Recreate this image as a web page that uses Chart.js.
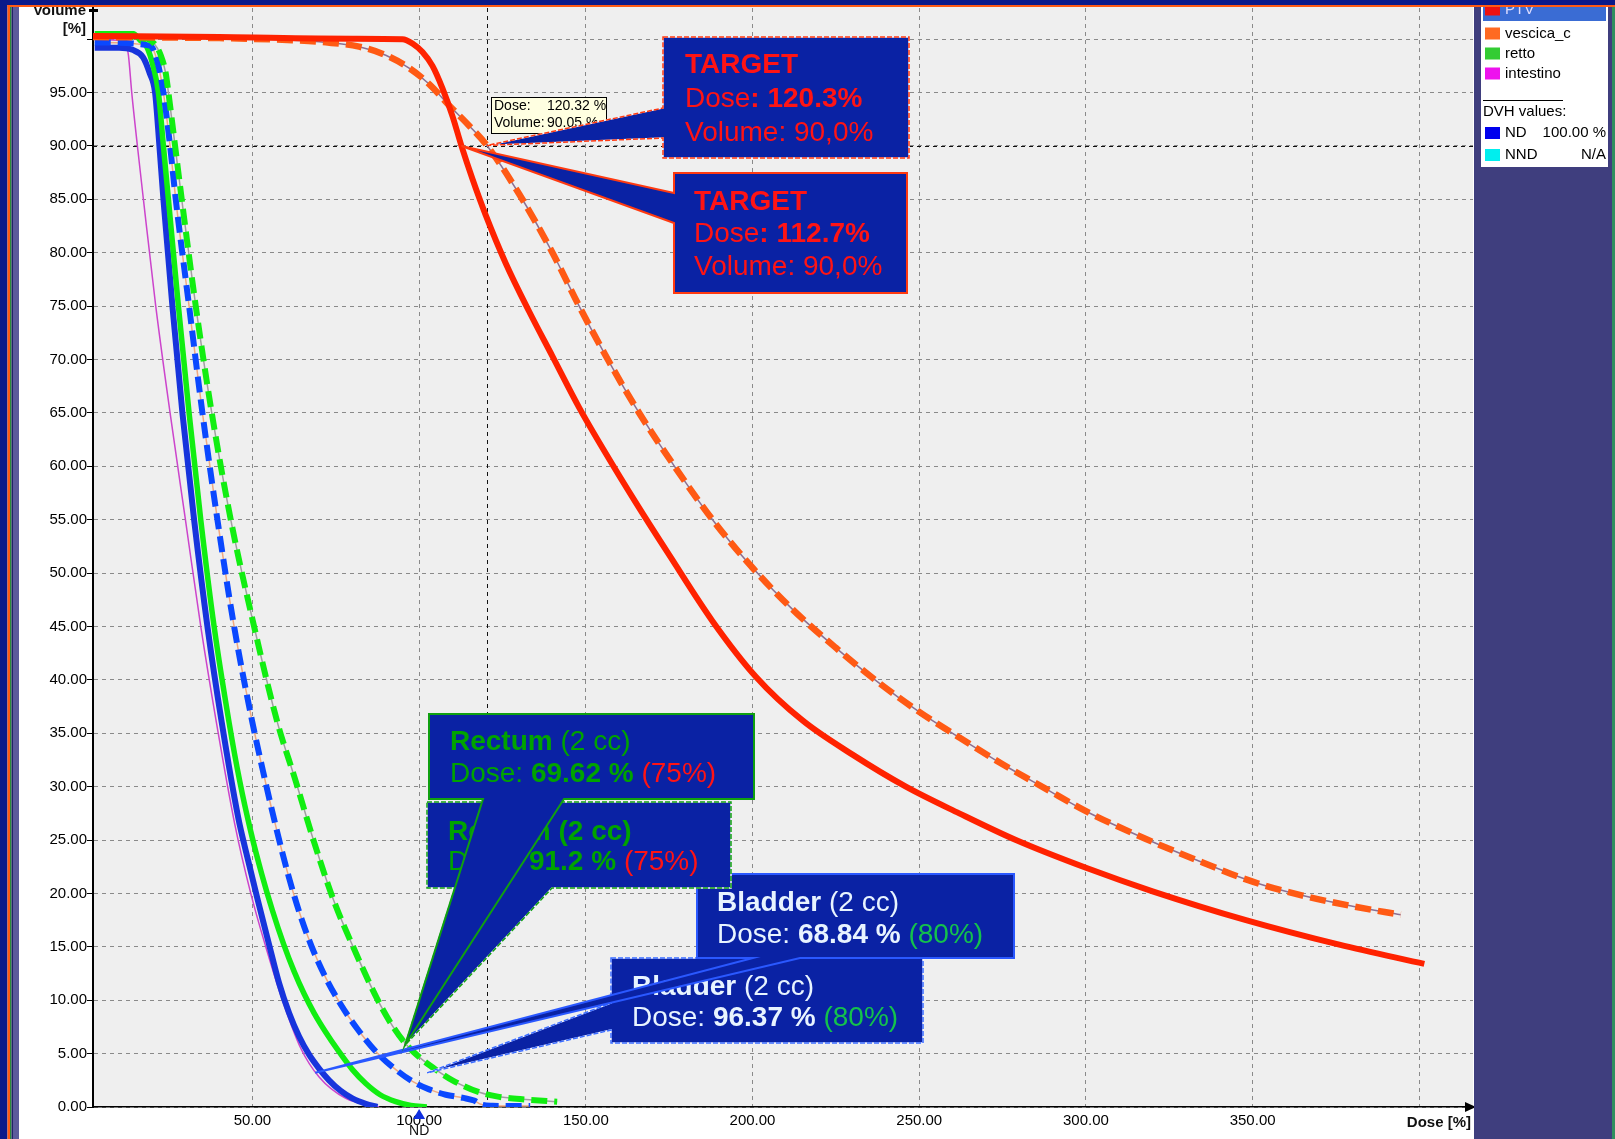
<!DOCTYPE html>
<html>
<head>
<meta charset="utf-8">
<title>DVH</title>
<script src="https://cdn.jsdelivr.net/npm/chart.js@4.4.1/dist/chart.umd.min.js"></script>
<style>
  html, body { margin: 0; padding: 0; background: #ffffff; overflow: hidden; }
  canvas { display: block; }
</style>
</head>
<body>
<canvas id="dvh" width="1615" height="1139"></canvas>
<script>
// ---------- Cumulative DVH curves: dose [%] / volume [%] ----------
// PTV, plan 1 (solid)
const ptvDose = [2.2, 40, 80, 95, 98, 101, 104, 107, 110, 112.7, 116, 120, 126, 133, 140, 148, 156, 165, 175, 188, 201, 215, 230, 246, 262, 279, 300, 320, 348, 376, 401.5];
const ptvVol  = [100.3, 100.2, 100.05, 100, 99.6, 98.8, 97.5, 95.4, 92.8, 90, 86.9, 83.5, 79, 74.5, 70.3, 65.5, 61.2, 56.6, 51.7, 45.5, 40.3, 36.2, 33, 30, 27.5, 25, 22.4, 20.2, 17.5, 15.2, 13.4];
// PTV, plan 2 (dashed)
const ptv2Dose = [2.2, 40, 62, 72, 82, 90, 97, 103, 109, 115, 120.32, 130, 140, 148, 156.6, 166, 176.6, 188, 200, 212, 225, 238, 250, 262, 275, 288, 300, 318, 335, 350, 365, 380, 394.4];
const ptv2Vol  = [100.2, 100.1, 99.9, 99.7, 99.3, 98.5, 97.3, 95.8, 93.8, 91.9, 90.05, 85.5, 80, 75, 70, 65, 60, 55, 50.5, 46.6, 43, 39.7, 37, 34.6, 32.1, 29.8, 27.7, 25.1, 22.9, 21.1, 19.8, 18.8, 18];
// Bladder, plan 1 (solid)
const bladderDose = [2.7, 10, 14, 17.2, 19.2, 20.8, 22.1, 23.3, 26, 29, 32.5, 36.5, 40.8, 45.8, 48, 51.5, 55, 58, 61, 64, 67, 70, 73, 76.5, 80, 84, 87.5];
const bladderVol  = [99.2, 99.2, 99, 98.3, 96.8, 95, 90, 85, 75, 65, 55, 45, 36, 27, 24, 19.5, 15.2, 11.6, 8.8, 6.6, 4.9, 3.6, 2.5, 1.5, 0.8, 0.3, 0];
// Bladder, plan 2 (dashed)
const bladder2Dose = [2.7, 19.3, 21.4, 23.3, 25.3, 27, 31, 35, 39.5, 44.5, 50, 53.5, 57, 60.5, 64, 67.8, 72, 76.5, 81.5, 87.3, 93, 98, 103, 108, 113.3, 116.5, 118.5, 122, 127, 133.3];
const bladder2Vol  = [99.7, 99.4, 98, 95, 90, 85, 75, 65, 55, 45, 36, 31, 26.3, 22, 18.3, 15, 12.1, 9.6, 7.3, 5.1, 3.5, 2.4, 1.65, 1.15, 0.85, 0.6, 0.25, 0.12, 0.1, 0.1];
// Rectum, plan 1 (solid)
const rectumDose = [2.7, 14.3, 16.3, 18.3, 20.2, 21.8, 23.3, 24.8, 27.8, 31, 34.5, 38.5, 43, 46.2, 49.5, 52.8, 56, 59.3, 62.5, 65.5, 68.5, 71.8, 75.7, 80, 84, 88.3, 93, 97.5, 102.3];
const rectumVol  = [100.5, 100.5, 99.9, 99.3, 97.5, 95, 90, 85, 75, 65, 55, 45, 36, 30.5, 25.8, 21.8, 18.4, 15.3, 12.7, 10.6, 8.8, 7.1, 5.3, 3.5, 2.2, 1.15, 0.5, 0.15, 0];
// Rectum, plan 2 (dashed)
const rectum2Dose = [2.7, 17.5, 20.5, 22.5, 24, 24.8, 26.8, 28.8, 33, 37.8, 43.5, 50.5, 57.5, 63, 68.3, 74.3, 80.2, 87.3, 92, 96, 100.3, 105, 110, 118.3, 124, 132, 141.4];
const rectum2Vol  = [100.3, 100.1, 99.6, 98.5, 96.8, 95, 90, 85, 75, 65, 55, 45, 36, 30.5, 25, 19.4, 15, 10.2, 7.6, 5.9, 4.6, 3.5, 2.5, 1.35, 0.95, 0.7, 0.5];
// Bowel (thin)
const bowelDose = [2.2, 10, 11.8, 12.8, 13.8, 15.5, 17.3, 21, 25.3, 29.9, 34.5, 39.2, 44.7, 49.5, 54, 59, 64.5, 70, 78, 88];
const bowelVol  = [100, 99.9, 99.8, 98.5, 95, 90, 85, 75, 65, 55, 45, 36, 26.5, 20, 15, 10, 5.5, 2.8, 0.8, 0];

// ---------- Axes ----------
const xTickValues = [50, 100, 150, 200, 250, 300, 350, 400];
const yTickValues = [0, 5, 10, 15, 20, 25, 30, 35, 40, 45, 50, 55, 60, 65, 70, 75, 80, 85, 90, 95, 100];

// ---------- Legend ----------
const legendNames  = ['PTV', 'vescica_c', 'retto', 'intestino'];
const legendColors = ['#ee1111', '#ff6a22', '#33cc33', '#ee11ee'];
const dvhNames  = ['ND', 'NND'];
const dvhColors = ['#0000ee', '#00eeee'];
const dvhValues = ['100.00 %', 'N/A'];

// ---------- Reported values ----------
const cursorDose = 120.32, cursorVolume = 90.05;
const targetDose = [120.3, 112.7];
const targetVolume = ['90,0', '90,0'];
const rectumD2cc = [69.62, 91.2];
const bladderD2cc = [68.84, 96.37];
const rectumLimit = '75%';
const bladderLimit = '80%';

const FONT = "'Liberation Sans', Arial, sans-serif";
Chart.defaults.font.family = FONT;

function pts(dose, vol) { return dose.map((d, i) => ({ x: d, y: vol[i] })); }

function curve(label, dose, vol, color, width, dash, order) {
  return {
    label, data: pts(dose, vol), showLine: true, borderColor: color, backgroundColor: color,
    borderWidth: width, borderDash: dash || [], pointRadius: 0, pointHoverRadius: 0,
    cubicInterpolationMode: 'monotone', fill: false, order, borderCapStyle: 'butt'
  };
}

const DASH = [16, 7];
const datasets = [
  curve('PTV', ptvDose, ptvVol, '#ff2200', 6, null, 0),
  curve('PTV 2', ptv2Dose, ptv2Vol, '#ff5a14', 6.5, DASH, 1),
  curve('PTV 2 line', ptv2Dose, ptv2Vol, '#8c6f92', 1.5, null, 2),
  curve('retto 2', rectum2Dose, rectum2Vol, '#11ee11', 6, DASH, 3),
  curve('retto 2 line', rectum2Dose, rectum2Vol, '#a0a0a0', 1.5, null, 4),
  curve('vescica 2', bladder2Dose, bladder2Vol, '#0a48ff', 6, DASH, 5),
  curve('vescica 2 line', bladder2Dose, bladder2Vol, '#f0a880', 1.5, null, 6),
  curve('retto', rectumDose, rectumVol, '#11ee11', 5.5, null, 7),
  curve('vescica', bladderDose, bladderVol, '#1734dc', 6, null, 8),
  curve('intestino', bowelDose, bowelVol, '#cc44cc', 1.5, null, 9)
];

// ---------- Drawing helpers ----------
const BOX_FILL = '#0a22a4';
const RED = '#ff1414', GREEN_TXT = '#00a300', LIGHT = '#e8f4ff', GREEN_LIM = '#14c24c';

function textRuns(ctx, x, y, parts, size) {
  ctx.textBaseline = 'middle';
  ctx.textAlign = 'left';
  for (const p of parts) {
    ctx.font = (p.b ? 'bold ' : '') + size + 'px ' + FONT;
    ctx.fillStyle = p.c;
    ctx.fillText(p.t, x, y);
    x += ctx.measureText(p.t).width;
  }
}

function drawCallout(ctx, c, tip) {
  const [x0, y0, x1, y1] = c.box;
  ctx.save();
  ctx.beginPath();
  ctx.moveTo(x0, y0);
  ctx.lineTo(x1, y0);
  ctx.lineTo(x1, y1);
  if (c.side === 'bottom') {
    ctx.lineTo(c.b, y1);
    ctx.lineTo(tip.x, tip.y);
    ctx.lineTo(c.a, y1);
    ctx.lineTo(x0, y1);
  } else {
    ctx.lineTo(x0, y1);
    ctx.lineTo(x0, c.b);
    ctx.lineTo(tip.x, tip.y);
    ctx.lineTo(x0, c.a);
  }
  ctx.closePath();
  ctx.fillStyle = BOX_FILL;
  ctx.fill();
  ctx.lineJoin = 'miter';
  if (c.dashed) {
    ctx.lineWidth = 1.5;
    ctx.strokeStyle = '#f4f4ff';
    ctx.stroke();
    ctx.setLineDash([5, 2]);
  }
  ctx.lineWidth = c.dashed ? 1.5 : 2;
  ctx.strokeStyle = c.border;
  ctx.stroke();
  ctx.restore();
  c.lines.forEach((ln, i) => textRuns(ctx, c.tx, c.ty[i], ln, 28));
}

const callouts = [
  { box: [663, 37, 909, 158], side: 'left', a: 108, b: 138, tip: [cursorDose, cursorVolume], border: '#ff3a10', dashed: true,
    tx: 685, ty: [65, 99, 133],
    lines: [[{ t: 'TARGET', b: 1, c: RED }],
            [{ t: 'Dose', c: RED }, { t: ': ' + targetDose[0] + '%', b: 1, c: RED }],
            [{ t: 'Volume: ' + targetVolume[0] + '%', c: RED }]] },
  { box: [674, 173, 907, 293], side: 'left', a: 193, b: 223, tip: [targetDose[1], 90], border: '#ff3a10', dashed: false,
    tx: 694, ty: [202, 234, 267],
    lines: [[{ t: 'TARGET', b: 1, c: RED }],
            [{ t: 'Dose', c: RED }, { t: ': ' + targetDose[1] + '%', b: 1, c: RED }],
            [{ t: 'Volume: ' + targetVolume[1] + '%', c: RED }]] },
  { box: [611, 958, 923, 1043], side: 'left', a: 1003, b: 1030, tip: [102.4, 3.2], border: '#3a6cff', dashed: true,
    tx: 632, ty: [987, 1018],
    lines: [[{ t: 'Bladder', b: 1, c: LIGHT }, { t: ' (2 cc)', c: LIGHT }],
            [{ t: 'Dose: ', c: LIGHT }, { t: bladderD2cc[1] + ' %', b: 1, c: LIGHT }, { t: ' (' + bladderLimit + ')', c: GREEN_LIM }]] },
  { box: [697, 874, 1014, 958], side: 'bottom', a: 753, b: 800, tip: [bladderD2cc[0], 3.2], border: '#2a58ff', dashed: false,
    tx: 717, ty: [903, 935],
    lines: [[{ t: 'Bladder', b: 1, c: LIGHT }, { t: ' (2 cc)', c: LIGHT }],
            [{ t: 'Dose: ', c: LIGHT }, { t: bladderD2cc[0] + ' %', b: 1, c: LIGHT }, { t: ' (' + bladderLimit + ')', c: GREEN_LIM }]] },
  { box: [427, 802, 731, 888], side: 'bottom', a: 455, b: 552, tip: [95.8, 5.8], border: '#10a010', dashed: true,
    tx: 448, ty: [832, 862],
    lines: [[{ t: 'Rectum (2 cc)', b: 1, c: GREEN_TXT }],
            [{ t: 'Dose: ', c: GREEN_TXT }, { t: rectumD2cc[1] + ' %', b: 1, c: GREEN_TXT }, { t: ' (' + rectumLimit + ')', c: RED }]] },
  { box: [429, 714, 754, 799], side: 'bottom', a: 483, b: 564, tip: [95.8, 5.8], border: '#10a010', dashed: false,
    tx: 450, ty: [742, 774],
    lines: [[{ t: 'Rectum', b: 1, c: GREEN_TXT }, { t: ' (2 cc)', c: GREEN_TXT }],
            [{ t: 'Dose: ', c: GREEN_TXT }, { t: rectumD2cc[0] + ' %', b: 1, c: GREEN_TXT }, { t: ' (' + rectumLimit + ')', c: RED }]] }
];

const decorPlugin = {
  id: 'dvhDecor',
  beforeDraw(chart) {
    const { ctx, chartArea: a } = chart;
    ctx.save();
    ctx.fillStyle = '#ffffff';
    ctx.fillRect(0, 0, chart.width, chart.height);
    ctx.fillStyle = '#efefef';
    ctx.fillRect(a.left, a.top - 1, a.right - a.left, a.bottom - a.top + 1);
    ctx.restore();
  },
  beforeDatasetsDraw(chart) {
    const { ctx, chartArea: a, scales: { x, y } } = chart;
    ctx.save();
    ctx.strokeStyle = '#111111';
    ctx.lineWidth = 1;
    ctx.setLineDash([4, 4]);
    const cx = Math.round(x.getPixelForValue(cursorDose)) + 0.5;
    const cy = Math.round(y.getPixelForValue(90)) + 0.5;
    ctx.beginPath();
    ctx.moveTo(cx, a.top); ctx.lineTo(cx, a.bottom);
    ctx.moveTo(a.left, cy); ctx.lineTo(a.right, cy);
    ctx.stroke();
    ctx.restore();
  },
  afterDatasetsDraw(chart) {
    const { ctx, scales: { x, y } } = chart;
    // cursor read-out
    ctx.save();
    ctx.fillStyle = '#ffffe1';
    ctx.fillRect(491, 97, 116, 37);
    ctx.strokeStyle = '#000';
    ctx.lineWidth = 1;
    ctx.strokeRect(491.5, 97.5, 115, 36);
    ctx.fillStyle = '#000';
    ctx.font = '14px ' + FONT;
    ctx.textBaseline = 'middle';
    ctx.fillText('Dose:', 494, 106);
    ctx.fillText(cursorDose.toFixed(2) + ' %', 547, 106);
    ctx.fillText('Volume:', 494, 123);
    ctx.fillText(cursorVolume.toFixed(2) + ' %', 547, 123);
    ctx.restore();

    for (const c of callouts) {
      const tip = { x: x.getPixelForValue(c.tip[0]), y: y.getPixelForValue(c.tip[1]) };
      drawCallout(ctx, c, tip);
    }
  },
  afterDraw(chart) {
    const { ctx, chartArea: a, scales: { x } } = chart;
    ctx.save();
    // axis arrows
    ctx.fillStyle = '#000';
    ctx.beginPath();
    ctx.moveTo(a.right + 3, a.bottom);
    ctx.lineTo(a.right - 8, a.bottom - 5);
    ctx.lineTo(a.right - 8, a.bottom + 5);
    ctx.closePath();
    ctx.fill();
    ctx.fillRect(a.left - 4, 9, 9, 3);

    // ND marker on dose axis
    const nx = x.getPixelForValue(100);
    ctx.fillStyle = '#1030e0';
    ctx.beginPath();
    ctx.moveTo(nx, a.bottom + 2);
    ctx.lineTo(nx - 6, a.bottom + 12);
    ctx.lineTo(nx + 6, a.bottom + 12);
    ctx.closePath();
    ctx.fill();
    ctx.fillStyle = '#111';
    ctx.font = '14px ' + FONT;
    ctx.textAlign = 'center';
    ctx.textBaseline = 'middle';
    ctx.fillText('ND', nx, 1131);

    // axis titles
    ctx.font = 'bold 15px ' + FONT;
    ctx.textAlign = 'right';
    ctx.fillText('Dose [%]', a.right - 2, 1123);
    ctx.fillText('Volume', 86, 11);
    ctx.fillText('[%]', 86, 29);

    // side panel
    ctx.fillStyle = '#3f3e7e';
    ctx.fillRect(1474, 0, 141, chart.height);
    ctx.fillStyle = '#2f8f5f';
    ctx.fillRect(1612, 7, 3, chart.height);

    // legend
    ctx.fillStyle = '#ffffff';
    ctx.fillRect(1481, 7, 127, 160);
    ctx.fillStyle = '#3a6cd4';
    ctx.fillRect(1483, 7, 123, 14);
    ctx.font = '15px ' + FONT;
    ctx.textAlign = 'left';
    const rowY = [9.5, 33.5, 53.5, 73.5];
    legendNames.forEach((n, i) => {
      ctx.fillStyle = legendColors[i];
      ctx.fillRect(1485, rowY[i] - 6, 15, 12);
      ctx.fillStyle = i === 0 ? '#dcdcff' : '#000';
      ctx.fillText(n, 1505, rowY[i]);
    });
    ctx.fillStyle = '#000';
    ctx.fillRect(1483, 100, 80, 1);
    ctx.fillText('DVH values:', 1483, 112);
    const dvhY = [133, 155];
    dvhNames.forEach((n, i) => {
      ctx.fillStyle = dvhColors[i];
      ctx.fillRect(1485, dvhY[i] - 6, 15, 12);
      ctx.fillStyle = '#000';
      ctx.textAlign = 'left';
      ctx.fillText(n, 1505, dvhY[i]);
      ctx.textAlign = 'right';
      ctx.fillText(dvhValues[i], 1606, dvhY[i]);
    });

    // window frame
    ctx.fillStyle = '#0b1a8a';
    ctx.fillRect(0, 0, chart.width, 5);
    ctx.fillRect(0, 0, 7.5, chart.height);
    ctx.fillStyle = '#ff5a14';
    ctx.fillRect(7.5, 5, chart.width - 7.5, 2);
    ctx.fillRect(7.5, 5, 2.5, chart.height);
    ctx.fillStyle = '#2a8a3a';
    ctx.fillRect(10, 7, 1.5, chart.height);
    ctx.fillStyle = '#22226a';
    ctx.fillRect(11.5, 7, 1.5, chart.height);
    ctx.fillStyle = '#5b5b9b';
    ctx.fillRect(13, 7, 6, chart.height);
    ctx.restore();
  }
};

new Chart(document.getElementById('dvh'), {
  type: 'scatter',
  data: { datasets },
  plugins: [decorPlugin],
  options: {
    responsive: false,
    devicePixelRatio: 1,
    animation: false,
    events: [],
    layout: { padding: { left: 0, right: 142, top: 8, bottom: 0 } },
    plugins: { legend: { display: false }, tooltip: { enabled: false } },
    scales: {
      x: {
        type: 'linear', min: 2.18, max: 416.1,
        afterBuildTicks(scale) { scale.ticks = xTickValues.map(v => ({ value: v })); },
        afterFit(scale) { scale.height = 32; scale.paddingLeft = 0; scale.paddingRight = 0; },
        ticks: { callback: v => (v === 400 ? '' : v.toFixed(2)), color: '#000', font: { size: 15 }, padding: 5, maxRotation: 0, autoSkip: false },
        grid: { color: '#8a8a8a', lineWidth: 1, drawTicks: false },
        border: { display: true, color: '#000', width: 1.5, dash: [4, 4] }
      },
      y: {
        type: 'linear', min: 0, max: 102.92,
        afterBuildTicks(scale) { scale.ticks = yTickValues.map(v => ({ value: v })); },
        afterFit(scale) { scale.width = 93; scale.paddingTop = 0; scale.paddingBottom = 0; },
        ticks: { callback: v => (v === 100 ? '' : v.toFixed(2)), color: '#000', font: { size: 15 }, padding: 0, autoSkip: false },
        grid: { color: '#8a8a8a', lineWidth: 1, drawTicks: true, tickLength: 6, tickColor: '#000', tickBorderDash: [] },
        border: { display: true, color: '#000', width: 2, dash: [4, 4] }
      }
    }
  }
});
</script>
</body>
</html>
